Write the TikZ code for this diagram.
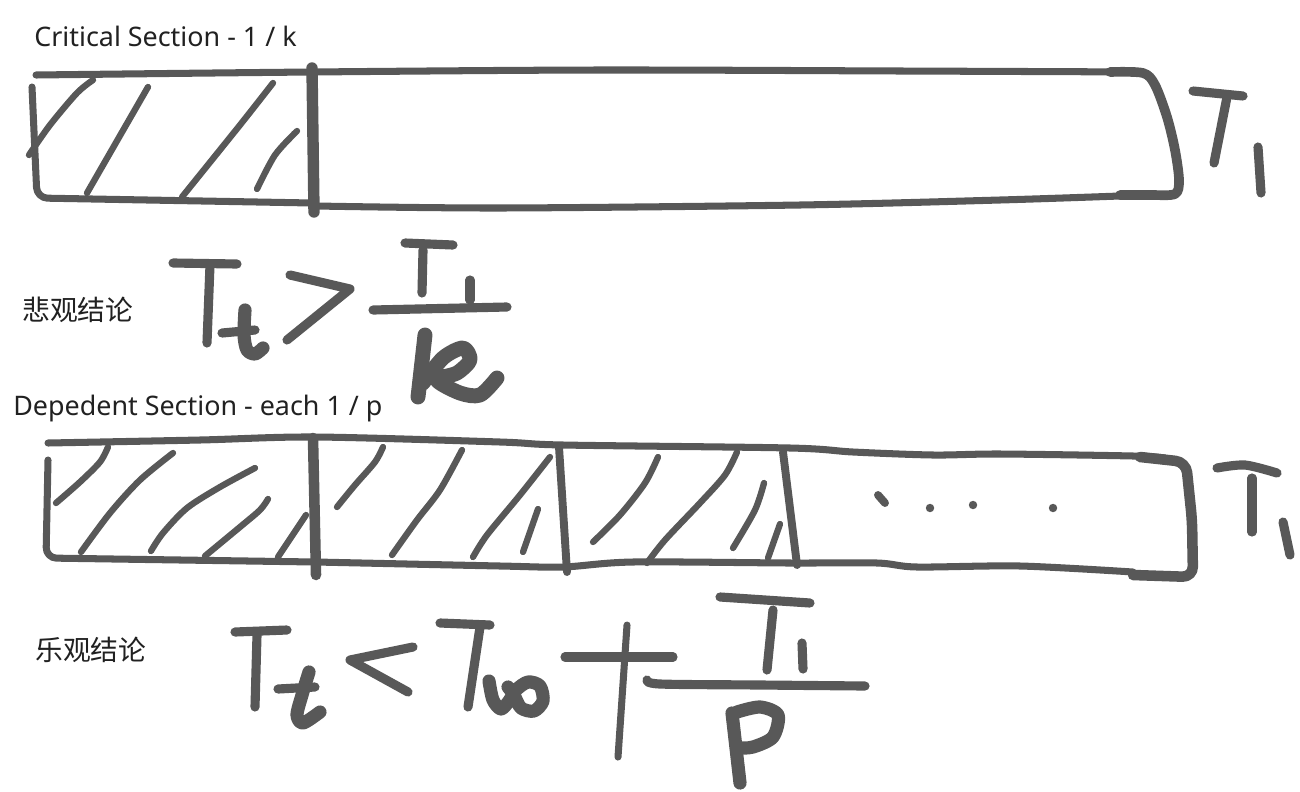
\documentclass[tikz,border=0pt]{standalone}
\usepackage{fontspec}
\setmainfont{Noto Sans}
\newfontfamily\cjk{Noto Sans CJK SC}
\definecolor{ink}{RGB}{88,88,88}
\definecolor{txt}{RGB}{33,33,33}
\begin{document}
\begin{tikzpicture}[x=0.02cm,y=-0.02cm,line join=round,line cap=round,
	box/.style={ink,line width=4pt},
	wall/.style={ink,line width=5.5pt},
	hatch/.style={ink,line width=3.6pt},
	pen/.style={ink,line width=5.2pt},
	bold/.style={ink,line width=7.5pt},
	lbl/.style={txt,anchor=base west,inner sep=0pt,font=\fontsize{15.3}{18}\selectfont}]
	\useasboundingbox[fill=white] (0,0) rectangle (1300,791);
	% labels
	\node[lbl] (crit) at (34,46) {Critical Section - 1 / k};
	\node[lbl,font=\fontsize{15.8}{18}\selectfont] (pess) at (22,320) {\cjk 悲观结论};
	\node[lbl] (dep) at (13,415) {Depedent Section - each 1 / p};
	\node[lbl,font=\fontsize{15.8}{18}\selectfont] (opt) at (35,660) {\cjk 乐观结论};
	% first bar
	\draw[box] plot[smooth] coordinates {(36,75) (312,72) (600,70) (900,71) (1143,72)};
	\draw[box,rounded corners=6] (32,87) -- (37,198) -- (312,203);
	\draw[box] plot[smooth] coordinates {(316,206) (500,208) (800,205) (1000,200) (1120,196)};
	\draw[box,line width=5.5pt] plot[smooth] coordinates {(1120,195) (1150,195) (1175,194) (1179,180) (1175,150) (1167,117) (1155,85) (1143,73) (1110,72)};
	\draw[wall,line width=6.5pt] (312,68) -- (313,140) -- (314,212);
	\draw[hatch] plot[smooth] coordinates {(93,80) (77,93) (50,125) (29,155)};
	\draw[hatch] (148,87) -- (87,193);
	\draw[hatch] plot[smooth] coordinates {(273,83) (240,125) (182,197)};
	\draw[hatch] plot[smooth] coordinates {(297,131) (275,155) (257,189)};
	\draw[pen] (1193,91) -- (1243,96);
	\draw[pen] (1227,97) -- (1214,163);
	\draw[pen] (1258,147) -- (1261,193);
	% first formula
	\draw[pen] (173,263) -- (237,264);
	\draw[pen] (210,265) -- (207,343);
	\draw[bold] plot[smooth] coordinates {(245,310) (244,335) (247,350) (255,354) (263,348)};
	\draw[pen] (222,333) -- (255,330);
	\draw[pen] (290,275) -- (350,289) -- (287,340);
	\draw[pen] (405,243) -- (453,245);
	\draw[pen] (423,250) -- (422,293);
	\draw[pen] (470,280) -- (470,300);
	\draw[pen] (373,310) -- (507,307);
	\draw[bold,line width=8.5pt] (425,335) -- (418,397);
	\draw[bold,line width=8.5pt] plot[smooth] coordinates {(423,383) (443,358) (463,348) (470,360) (457,373) (437,380) (460,393) (480,395) (497,378)};
	% second bar
	\draw[box] plot[smooth] coordinates {(48,443) (200,440) (315,437) (500,442) (563,445) (790,448) (853,452) (933,455) (1000,454) (1133,456) (1165,458)};
	\draw[box,rounded corners=6] (48,460) -- (46,558) -- (315,562);
	\draw[box] plot[smooth] coordinates {(316,562) (500,566) (563,567) (633,562) (790,563) (877,563) (917,567) (1020,566) (1133,572)};
	\draw[box,line width=6pt,rounded corners=6] (1133,575) -- (1193,577) -- (1192,520) -- (1186,462) -- (1140,457);
	\draw[wall,line width=6pt] (313,438) -- (316,575);
	\draw[wall,line width=4.5pt] (559,447) -- (567,572);
	\draw[wall,line width=4.5pt] (783,452) -- (797,565);
	\draw[hatch] plot[smooth] coordinates {(108,447) (100,462) (80,482) (56,503)};
	\draw[hatch] plot[smooth] coordinates {(173,453) (140,480) (110,513) (81,552)};
	\draw[hatch] plot[smooth] coordinates {(255,468) (220,487) (187,508) (163,533) (151,551)};
	\draw[hatch] plot[smooth] coordinates {(268,499) (260,510) (240,527) (205,556)};
	\draw[hatch] (306,515) -- (278,557);
	\draw[hatch] plot[smooth] coordinates {(383,447) (375,462) (355,485) (337,507)};
	\draw[hatch] plot[smooth] coordinates {(462,450) (440,490) (417,520) (392,555)};
	\draw[hatch] plot[smooth] coordinates {(550,457) (520,495) (487,535) (473,557)};
	\draw[hatch] (538,509) -- (523,552);
	\draw[hatch] plot[smooth] coordinates {(658,457) (645,483) (620,515) (593,542)};
	\draw[hatch] plot[smooth] coordinates {(737,452) (725,475) (700,503) (665,540) (647,563)};
	\draw[hatch] plot[smooth] coordinates {(764,483) (755,510) (733,548)};
	\draw[hatch] (780,524) -- (768,558);
	\draw[pen,line width=4.5pt] (878,495) -- (885,503);
	\fill[ink] (930,508) circle[radius=2.4pt] (973,505) circle[radius=2.4pt] (1053,508) circle[radius=2.4pt];
	\draw[pen] plot[smooth] coordinates {(1217,468) (1245,465) (1277,473)};
	\draw[pen] (1252,478) -- (1252,532);
	\draw[pen] (1283,522) -- (1290,555);
	% second formula
	\draw[pen] (235,632) -- (287,630);
	\draw[pen] (257,635) -- (255,707);
	\draw[bold] plot[smooth] coordinates {(309,672) (302,695) (297,715) (303,723) (320,712)};
	\draw[pen] (278,689) -- (315,687);
	\draw[pen] (413,647) -- (350,660) -- (408,692);
	\draw[pen] (440,623) -- (490,625);
	\draw[pen] (480,627) -- (468,707);
	\draw[bold] plot[smooth] coordinates {(489,681) (493,700) (501,709) (509,701) (516,690) (528,682) (540,686) (543,701) (534,711) (521,708) (514,695) (508,687)};
	\draw[pen] (565,657) -- (673,657);
	\draw[pen,line width=4pt] (627,625) -- (618,757);
	\draw[pen] plot[smooth] coordinates {(647,680) (660,684) (760,685) (865,686)};
	\draw[pen] (720,597) -- (810,603);
	\draw[pen] (773,610) -- (767,670);
	\draw[pen] (802,643) -- (803,669);
	\draw[bold] (732,713) -- (740,783);
	\draw[bold] plot[smooth] coordinates {(737,712) (760,707) (778,715) (773,737) (753,747) (738,748)};
\end{tikzpicture}
\end{document}
